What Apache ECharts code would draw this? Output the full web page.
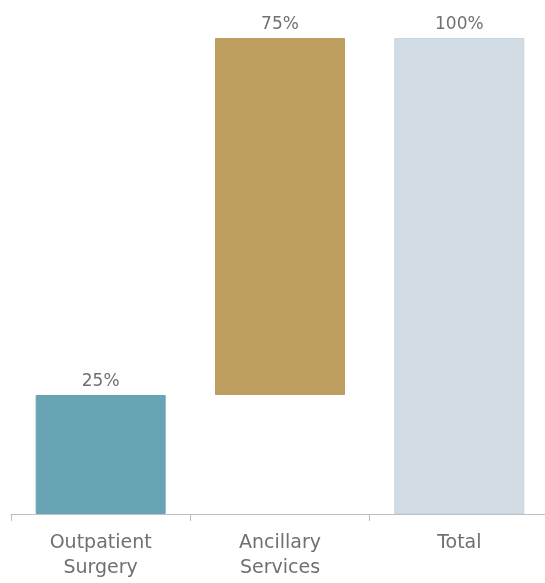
<!DOCTYPE html>
<html><head><meta charset="utf-8">
<script src="https://cdn.jsdelivr.net/npm/echarts@6/dist/echarts.min.js"></script>
<style>html,body{margin:0;padding:0;background:#fff;overflow:hidden;width:545px;height:583px}#c{width:570px;height:583px}</style>
</head><body><div id="c"></div>
<script>
var categories = ['Outpatient\nSurgery', 'Ancillary\nServices', 'Total'];
var offsets = [0, 25, 0];
var values = [25, 75, 100];
var colors = ['#68A4B4', '#BE9E5E', '#D1DCE4'];

var chart = echarts.init(document.getElementById('c'));
chart.setOption({
  animation: false,
  grid: {left: 11, right: 21, top: 38, bottom: 69, containLabel: false},
  xAxis: {
    type: 'category', data: categories,
    axisLine: {lineStyle: {color: '#BFBFBF', width: 1}},
    axisTick: {show: true, length: 7, lineStyle: {color: '#BFBFBF'}},
    axisLabel: {color: '#707070', fontSize: 19, lineHeight: 25, margin: 17, fontFamily: '"DejaVu Sans", sans-serif'}
  },
  yAxis: {type: 'value', min: 0, max: 100, show: false, splitLine: {show: false}},
  series: [
    {type: 'bar', stack: 'w', data: offsets, barWidth: 130, itemStyle: {color: 'transparent'}, silent: true},
    {type: 'bar', stack: 'w', barWidth: 130,
      data: values.map(function (v, i) { return {value: v, itemStyle: {color: colors[i], borderColor: i === 2 ? '#C8D3DB' : colors[i], borderWidth: 1}}; }),
      label: {show: true, position: 'top', distance: 5, formatter: '{c}%', color: '#707070', fontSize: 17, fontFamily: '"DejaVu Sans", sans-serif'}
    }
  ]
});
</script></body></html>
